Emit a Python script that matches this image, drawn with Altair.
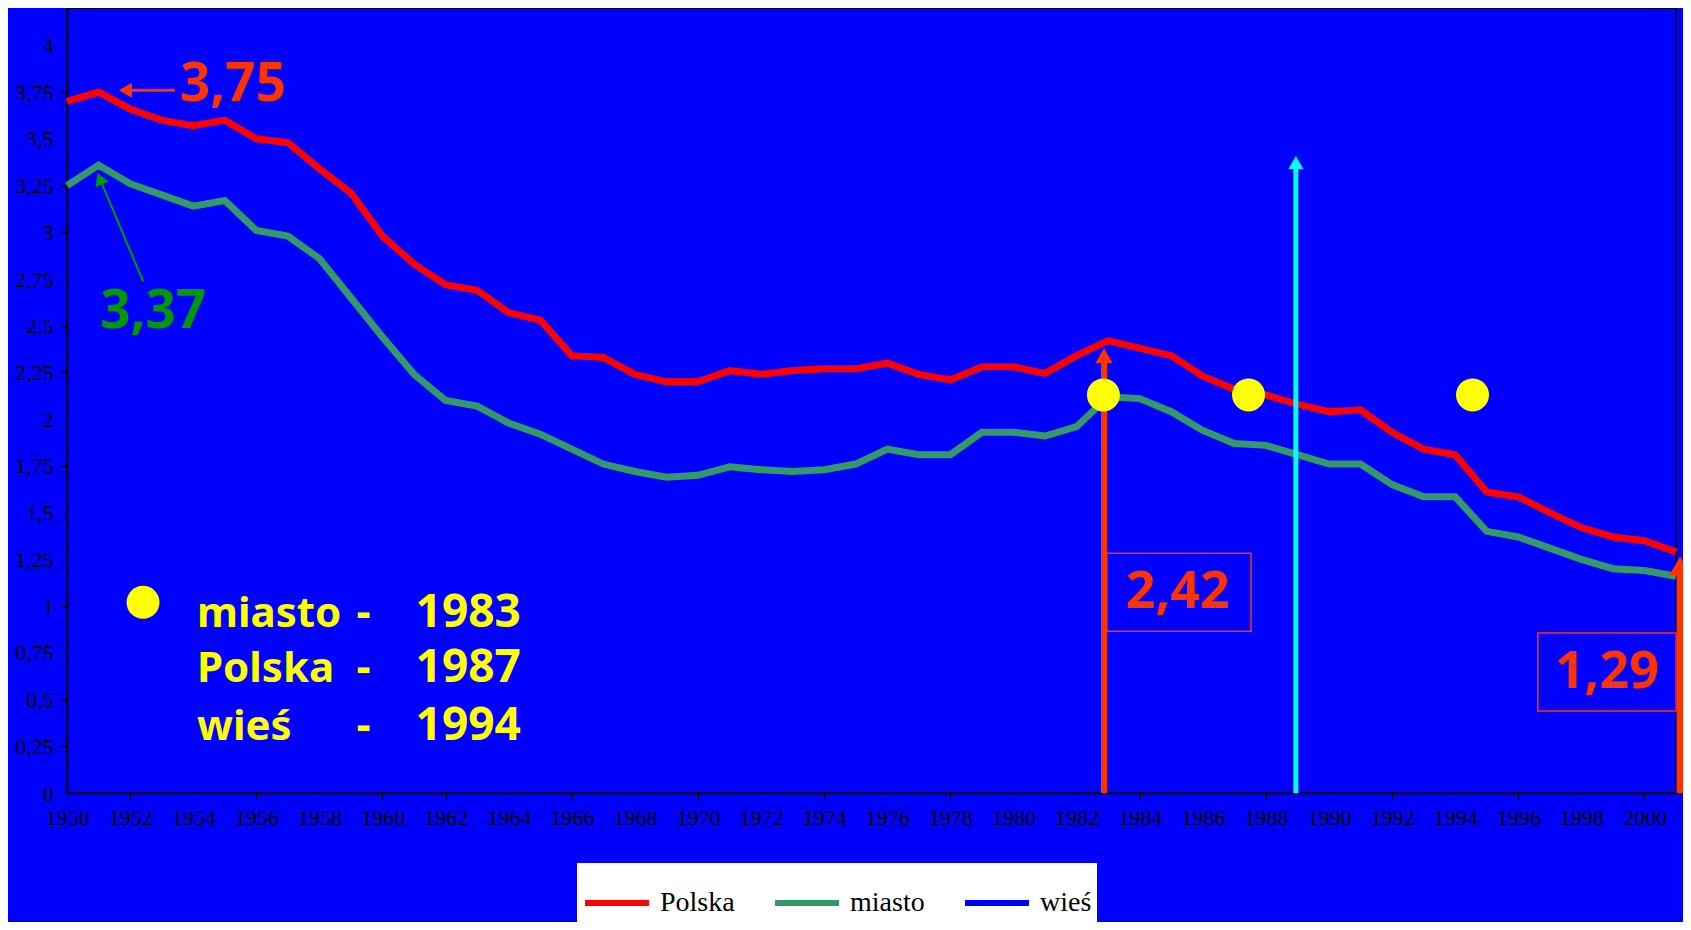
import altair as alt
import pandas as pd

# ---------------- data ----------------
years = [1950, 1951, 1952, 1953, 1954, 1955, 1956, 1957, 1958, 1959,
         1960, 1961, 1962, 1963, 1964, 1965, 1966, 1967, 1968, 1969,
         1970, 1971, 1972, 1973, 1974, 1975, 1976, 1977, 1978, 1979,
         1980, 1981, 1982, 1983, 1984, 1985, 1986, 1987, 1988, 1989,
         1990, 1991, 1992, 1993, 1994, 1995, 1996, 1997, 1998, 1999,
         2000, 2001]
polska = [3.70, 3.75, 3.66, 3.60, 3.57, 3.60, 3.50, 3.48, 3.34, 3.21,
          2.98, 2.83, 2.72, 2.69, 2.57, 2.53, 2.34, 2.33, 2.24, 2.20,
          2.20, 2.26, 2.24, 2.26, 2.27, 2.27, 2.30, 2.24, 2.21, 2.28,
          2.28, 2.245, 2.34, 2.42, 2.38, 2.34, 2.23, 2.16, 2.13, 2.08,
          2.04, 2.05, 1.93, 1.84, 1.81, 1.61, 1.585, 1.50, 1.42, 1.37,
          1.35, 1.29]
miasto = [3.25, 3.36, 3.26, 3.20, 3.14, 3.17, 3.01, 2.98, 2.86, 2.65,
          2.44, 2.24, 2.10, 2.07, 1.98, 1.92, 1.84, 1.76, 1.72, 1.69,
          1.70, 1.745, 1.73, 1.72, 1.73, 1.76, 1.84, 1.81, 1.81, 1.93,
          1.93, 1.91, 1.96, 2.12, 2.11, 2.04, 1.94, 1.87, 1.86, 1.81,
          1.76, 1.76, 1.65, 1.585, 1.585, 1.40, 1.37, 1.31, 1.25, 1.20,
          1.19, 1.16]
series_names = ["Polska", "miasto", "wieś"]
series_colors = ["#FF0000", "#339966", "#0000FF"]

y_ticks = [0, 0.25, 0.5, 0.75, 1, 1.25, 1.5, 1.75, 2, 2.25, 2.5, 2.75,
           3, 3.25, 3.5, 3.75, 4]

# yellow markers (years of peak)
dot_x = [1982.85, 1987.45, 1994.55]
dot_y = [2.13, 2.13, 2.13]

# text block (legend of markers)
block_dot_x = [1952.41]
block_dot_y = [1.02]
block_names = ["miasto", "Polska", "wieś"]
block_years = ["1983", "1987", "1994"]
block_rows_y = [0.888, 0.594, 0.283]
block_name_x = 1954.12
block_dash_x = 1959.4
block_year_x = 1961.05

# value callouts
call_text = ["3,75", "3,37"]
call_x = [1953.58, 1951.05]
call_y = [3.70, 2.49]
call_color = ["#FF3300", "#009900"]

box_text = ["2,42", "1,29"]
box_x1 = [1982.96, 1996.62]
box_x2 = [1987.53, 2001.0]
box_y1 = [1.283, 0.856]
box_y2 = [0.866, 0.439]
box_tx = [1985.21, 1998.81]
box_ty = [1.075, 0.647]

# arrows: shaft (x, y) -> (x2, y2), head at (x2, y2)
arr_x = [1953.42, 1952.41, 1982.87, 1988.95, 2001.13]
arr_y = [3.76, 2.738, 0.0, 0.0, 0.0]
arr_x2 = [1951.85, 1951.04, 1982.87, 1988.95, 2001.13]
arr_y2 = [3.76, 3.287, 2.34, 3.374, 1.214]
arr_color = ["#FF3300", "#009900", "#FF3300", "#00FFFF", "#FF3300"]
arr_width = [3, 2, 6, 5, 7]
head_shape = ["triangle-left", "triangle-up", "triangle-up", "triangle-up", "triangle-up"]
head_angle = [0, 337, 0, 0, 0]
head_size = [230, 200, 300, 225, 500]

# ---------------- frames ----------------
lines_df = pd.DataFrame({
    "x": years * 2,
    "y": polska + miasto,
    "series": ["Polska"] * len(years) + ["miasto"] * len(years),
})

X = alt.Scale(domain=[1950, 2001], nice=False, zero=False)
Y = alt.Scale(domain=[0, 4.2], nice=False, zero=False)

x_axis = alt.Axis(values=years, title=None, grid=False,
                  labelExpr="datum.value % 2 == 0 ? datum.value + '' : ''",
                  tickSize=6, tickColor="black", tickWidth=1,
                  domainColor="black", domainWidth=1.5,
                  labelFont="Liberation Serif", labelFontSize=22,
                  labelColor="black", labelPadding=8,
                  labelOverlap=False, labelFlush=False)
y_axis = alt.Axis(values=y_ticks, title=None, grid=False,
                  labelExpr="replace(datum.value + '', '.', ',')",
                  tickSize=6, tickColor="black", tickWidth=1,
                  domainColor="black", domainWidth=1.5,
                  labelFont="Liberation Serif", labelFontSize=22,
                  labelColor="black", labelPadding=8,
                  labelOverlap=False)

lines = alt.Chart(lines_df).mark_line(strokeWidth=7, strokeJoin="miter").encode(
    x=alt.X("x:Q", scale=X, axis=x_axis),
    y=alt.Y("y:Q", scale=Y, axis=y_axis),
    color=alt.Color("series:N",
                    scale=alt.Scale(domain=series_names, range=series_colors),
                    legend=alt.Legend(
                        orient="none", legendX=510, legendY=855,
                        direction="horizontal", title=None,
                        fillColor="white", padding=5,
                        symbolType="stroke", symbolSize=4096,
                        symbolStrokeWidth=6, labelFont="Liberation Serif",
                        labelFontSize=28, labelColor="black",
                        labelOffset=8, columnPadding=28, rowPadding=0,
                        symbolOpacity=1)),
    detail="series:N",
)

arrows_df = pd.DataFrame({"x": arr_x, "y": arr_y, "x2": arr_x2, "y2": arr_y2,
                          "c": arr_color, "w": arr_width})
shafts = alt.Chart(arrows_df).mark_rule().encode(
    x=alt.X("x:Q", scale=X), y=alt.Y("y:Q", scale=Y),
    x2="x2:Q", y2="y2:Q",
    color=alt.Color("c:N", scale=None),
    strokeWidth=alt.StrokeWidth("w:Q", scale=None),
)
heads_df = pd.DataFrame({"x": arr_x2, "y": arr_y2, "c": arr_color,
                         "shape": head_shape, "angle": head_angle,
                         "size": head_size})
heads = alt.Chart(heads_df).mark_point(filled=True, opacity=1, strokeWidth=0).encode(
    x=alt.X("x:Q", scale=X), y=alt.Y("y:Q", scale=Y),
    color=alt.Color("c:N", scale=None),
    shape=alt.Shape("shape:N", scale=None),
    angle=alt.Angle("angle:Q", scale=None),
    size=alt.Size("size:Q", scale=None),
)

boxes_df = pd.DataFrame({"x": box_x1, "x2": box_x2, "y": box_y1, "y2": box_y2})
boxes = alt.Chart(boxes_df).mark_rect(fill="transparent", stroke="#FF3300",
                                      strokeWidth=1.5).encode(
    x=alt.X("x:Q", scale=X), x2="x2:Q",
    y=alt.Y("y:Q", scale=Y), y2="y2:Q",
)
box_text_df = pd.DataFrame({"x": box_tx, "y": box_ty, "t": box_text})
box_texts = alt.Chart(box_text_df).mark_text(
    font="Noto Sans", fontWeight="bold", fontSize=52, color="#FF3300",
    align="center", baseline="middle").encode(
    x=alt.X("x:Q", scale=X), y=alt.Y("y:Q", scale=Y), text="t:N")

call_df = pd.DataFrame({"x": call_x, "y": call_y, "t": call_text, "c": call_color})
calls = alt.Chart(call_df).mark_text(
    font="Noto Sans", fontWeight="bold", fontSize=53,
    align="left", baseline="alphabetic").encode(
    x=alt.X("x:Q", scale=X), y=alt.Y("y:Q", scale=Y), text="t:N",
    color=alt.Color("c:N", scale=None))

dots_df = pd.DataFrame({"x": dot_x + block_dot_x, "y": dot_y + block_dot_y})
dots = alt.Chart(dots_df).mark_circle(color="#FFFF00", opacity=1, size=1089).encode(
    x=alt.X("x:Q", scale=X), y=alt.Y("y:Q", scale=Y))

names_df = pd.DataFrame({"x": [block_name_x] * 3, "y": block_rows_y, "t": block_names})
dash_df = pd.DataFrame({"x": [block_dash_x] * 3, "y": block_rows_y, "t": ["-"] * 3})
yrs_df = pd.DataFrame({"x": [block_year_x] * 3, "y": block_rows_y, "t": block_years})

block_names_l = alt.Chart(names_df).mark_text(
    font="Noto Sans", fontWeight="bold", fontSize=42, color="#FFFF00",
    align="left", baseline="alphabetic").encode(
    x=alt.X("x:Q", scale=X), y=alt.Y("y:Q", scale=Y), text="t:N")
block_dash_l = alt.Chart(dash_df).mark_text(
    font="Noto Sans", fontWeight="bold", fontSize=44, color="#FFFF00",
    align="center", baseline="alphabetic").encode(
    x=alt.X("x:Q", scale=X), y=alt.Y("y:Q", scale=Y), text="t:N")
block_years_l = alt.Chart(yrs_df).mark_text(
    font="Noto Sans", fontWeight="bold", fontSize=46, color="#FFFF00",
    align="left", baseline="alphabetic").encode(
    x=alt.X("x:Q", scale=X), y=alt.Y("y:Q", scale=Y), text="t:N")

chart = alt.layer(
    lines, boxes, box_texts, shafts, heads, dots, calls,
    block_names_l, block_dash_l, block_years_l
).properties(
    width=1609, height=785,
    padding={"left": 59, "top": 0, "right": 7, "bottom": 129},
    autosize=alt.AutoSizeParams(type="none"),
    background="#0000FF",
).configure_view(
    stroke="black", strokeWidth=1.5
)

chart.save("out.html", embed_options={"renderer": "svg", "actions": False})
